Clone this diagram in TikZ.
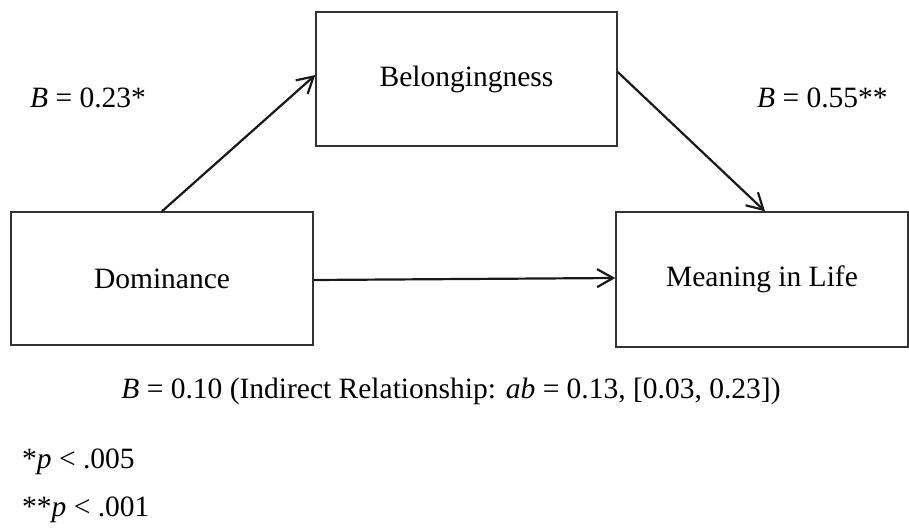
\documentclass[tikz,border=0pt]{standalone}
\usepackage{fontspec}
\setmainfont{Liberation Serif}
\usetikzlibrary{arrows.meta}
\begin{document}
\begin{tikzpicture}[x=1pt,y=-1pt,
  varbox/.style={draw=black!80, line width=1.4pt, rectangle, inner sep=0pt, font=\fontsize{29.5}{35}\selectfont},
  lbl/.style={inner sep=0pt, font=\fontsize{29.5}{35}\selectfont},
  path/.style={draw=black!90, line width=2.2pt, -{Straight Barb[length=16pt,width=18pt,line width=2.2pt]}}
]
\useasboundingbox (0,0) rectangle (909,530);
\node[varbox, minimum width=301pt, minimum height=134pt] (bel) at (466.5,79) {Belongingness};
\node[varbox, minimum width=302pt, minimum height=133pt] (dom) at (162,278.5) {Dominance};
\node[varbox, minimum width=292pt, minimum height=135pt] (mean) at (762,279.5) {Meaning in Life};
\draw[path] (dom.north) -- ([yshift=4pt]bel.west);
\draw[path] ([yshift=7pt]bel.east) -- ([xshift=3pt]mean.north);
\draw[path] ([yshift=-1.5pt]dom.east) -- ([yshift=1.5pt]mean.west);
\node[lbl, anchor=base west] (la) at (30,107) {\textit{B} = 0.23*};
\node[lbl, anchor=base west] (lb) at (757,107) {\textit{B} = 0.55**};
\node[lbl, anchor=base] (lc) at (451,398) {\textit{B} = 0.10 (Indirect Relationship: \textit{ab} = 0.13, [0.03, 0.23])};
\node[lbl, anchor=base west] (n1) at (22,468) {*\textit{p} < .005};
\node[lbl, anchor=base west] (n2) at (22,516) {**\textit{p} < .001};
\end{tikzpicture}
\end{document}
